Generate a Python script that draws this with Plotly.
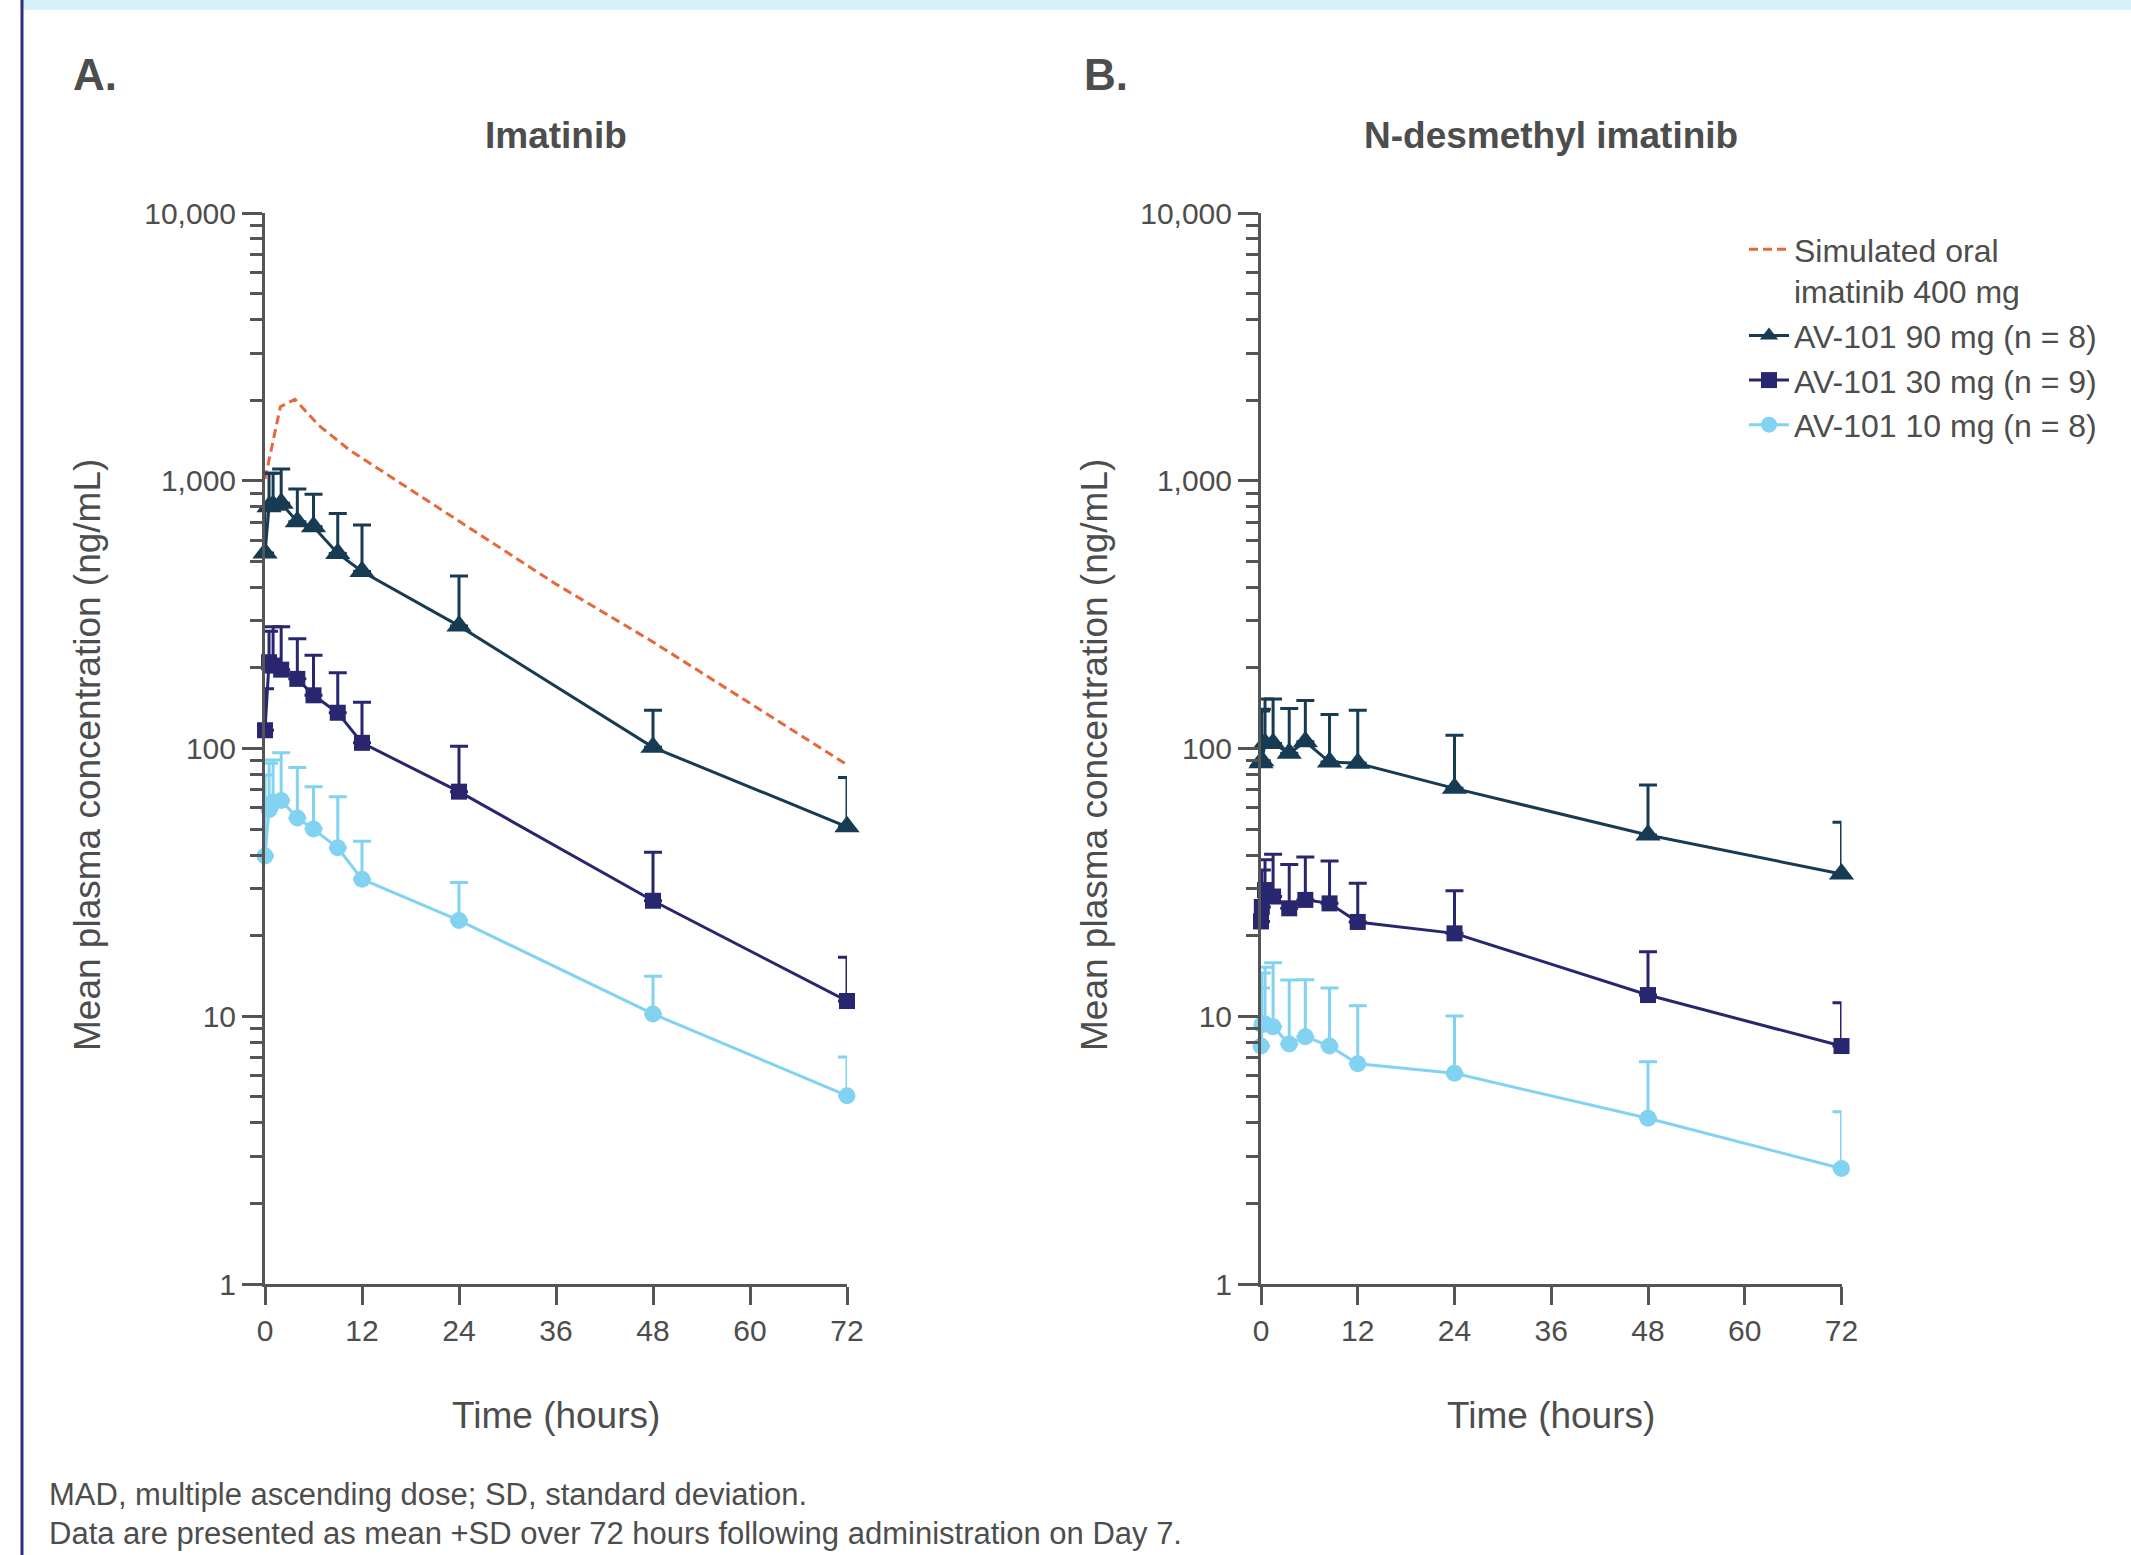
import plotly.graph_objects as go

W, H = 2131, 1555

# ---------------- data ----------------
# Panel A: Imatinib
times_A = [0, 0.5, 1, 2, 4, 6, 9, 12, 24, 48, 72]
a_90_mean = [537, 800, 810, 824, 703, 673, 535, 458, 287, 101, 51]
a_90_sd = [291, 267, 257, 283, 229, 217, 220, 226, 154, 38, 27]
a_30_mean = [117, 210, 204, 197, 182, 158, 136, 105, 69, 27, 11.4]
a_30_sd = [50, 64, 81, 88, 75, 65, 56, 44, 33, 14, 5.2]
a_10_mean = [39.7, 59, 63, 64, 55, 50, 42.6, 32.5, 22.8, 10.2, 5.05]
a_10_sd = [40, 29, 27.6, 32.4, 30, 22, 23.4, 12.5, 8.8, 3.9, 2.0]

# Simulated oral imatinib 400 mg (panel A only)
sim_times = [0, 1.9, 3.7, 6.6, 10.5, 14.6, 21.4, 36, 48, 60, 72]
sim_conc = [1015, 1890, 2015, 1615, 1300, 1080, 800, 411, 250, 147, 87]

# Panel B: N-desmethyl imatinib
times_B = [0, 0.1, 0.5, 1.5, 3.5, 5.5, 8.5, 12, 24, 48, 72]
b_90_mean = [88.5, 90, 104.5, 104.5, 96, 106, 89, 88, 71, 47.5, 34]
b_90_sd = [49.5, 50, 48.5, 48.5, 45, 45, 45, 51, 41, 25.5, 19]
b_30_mean = [22.6, 25.6, 29.6, 28.0, 25.3, 27.2, 26.4, 22.5, 20.4, 12.0, 7.74]
b_30_sd = [6.3, 9.6, 8.8, 12.3, 11.6, 12.1, 11.6, 8.9, 9.0, 5.4, 3.5]
b_10_mean = [7.74, 9.3, 9.35, 9.14, 7.87, 8.39, 7.74, 6.64, 6.12, 4.16, 2.70]
b_10_sd = [5.0, 5.2, 5.9, 6.7, 5.8, 5.3, 5.0, 4.3, 3.9, 2.6, 1.7]

series_names = ["AV-101 90 mg (n = 8)", "AV-101 30 mg (n = 9)", "AV-101 10 mg (n = 8)"]
sim_name = "Simulated oral<br>imatinib 400 mg"

x_ticks = [0, 12, 24, 36, 48, 60, 72]
y_ticks = [1, 10, 100, 1000, 10000]
y_ticktext = ["1", "10", "100", "1,000", "10,000"]

panel_titles = ["Imatinib", "N-desmethyl imatinib"]
panel_letters = ["A.", "B."]
x_title = "Time (hours)"
y_title = "Mean plasma concentration (ng/mL)"
footnotes = [
    "MAD, multiple ascending dose; SD, standard deviation.",
    "Data are presented as mean +SD over 72 hours following administration on Day 7.",
]

# ---------------- styles ----------------
FONT = "Liberation Sans, Arial, Helvetica, sans-serif"
TXT = "#4d4d4d"
AX = "#555555"
colors = ["#173B53", "#27266F", "#82D3F2"]
symbols = ["triangle-up", "square", "circle"]
msizes = [22, 16, 17]
SIM_COL = "#E4693B"


def px(x):
    return x / W


def py(y):
    return 1 - y / H


fig = go.Figure()

fig.add_trace(go.Scatter(
    x=sim_times, y=sim_conc, mode="lines", name=sim_name,
    line=dict(color=SIM_COL, width=3, dash="9px,5px"),
    xaxis="x", yaxis="y", cliponaxis=False, showlegend=True,
))

panels = [
    ("x", "y", times_A, [(a_90_mean, a_90_sd), (a_30_mean, a_30_sd), (a_10_mean, a_10_sd)], True),
    ("x2", "y2", times_B, [(b_90_mean, b_90_sd), (b_30_mean, b_30_sd), (b_10_mean, b_10_sd)], False),
]
for xa, ya, tt, sers, show in panels:
    for i, (m, sd) in enumerate(sers):
        fig.add_trace(go.Scatter(
            x=tt, y=m, mode="lines+markers", name=series_names[i],
            line=dict(color=colors[i], width=3),
            marker=dict(symbol=symbols[i], size=msizes[i], color=colors[i],
                        line=dict(width=0)),
            error_y=dict(type="data", symmetric=False, array=sd,
                         arrayminus=[0] * len(sd), color=colors[i],
                         thickness=3, width=9),
            xaxis=xa, yaxis=ya, cliponaxis=False, showlegend=show,
        ))

minor_vals = [m * 10 ** e for e in range(0, 4) for m in range(2, 10)]

common_x = dict(
    range=[0, 72], tickmode="array", tickvals=x_ticks,
    showline=True, linewidth=3, linecolor=AX,
    ticks="outside", ticklen=18, tickwidth=2.5, tickcolor=AX,
    tickfont=dict(size=30, color=TXT, family=FONT),
    showgrid=False, zeroline=False, fixedrange=True, automargin=False,
)
common_y = dict(
    type="log", range=[0, 4], domain=[py(1284), py(213)],
    tickmode="array", tickvals=y_ticks, ticktext=y_ticktext,
    showline=True, linewidth=3, linecolor=AX,
    ticks="outside", ticklen=20, tickwidth=3, tickcolor=AX,
    tickfont=dict(size=30, color=TXT, family=FONT),
    minor=dict(tickmode="array", tickvals=minor_vals, ticks="outside",
               ticklen=12, tickwidth=3, tickcolor=AX, showgrid=False),
    showgrid=False, zeroline=False, fixedrange=True, automargin=False,
)

annotations = []
# panel letters
for lx, lt in zip([71, 1082], panel_letters):
    annotations.append(dict(x=px(lx), y=py(74), xref="paper", yref="paper",
                            text="<b>" + lt + "</b>", showarrow=False,
                            xanchor="left", yanchor="middle",
                            font=dict(size=44, color=TXT, family=FONT)))
# panel titles, axis titles
for cx, ycx, t in zip([556, 1551], [87, 1094], panel_titles):
    annotations.append(dict(x=px(cx), y=py(136), xref="paper", yref="paper",
                            text="<b>" + t + "</b>", showarrow=False,
                            xanchor="center", yanchor="middle",
                            font=dict(size=37, color=TXT, family=FONT)))
    annotations.append(dict(x=px(cx), y=py(1415), xref="paper", yref="paper",
                            text=x_title, showarrow=False,
                            xanchor="center", yanchor="middle",
                            font=dict(size=37, color=TXT, family=FONT)))
    annotations.append(dict(x=px(ycx), y=py(755), xref="paper", yref="paper",
                            text=y_title, showarrow=False, textangle=-90,
                            xanchor="center", yanchor="middle",
                            font=dict(size=37, color=TXT, family=FONT)))
# footnotes
for fy, ft in zip([1494, 1533], footnotes):
    annotations.append(dict(x=px(47), y=py(fy), xref="paper", yref="paper",
                            text=ft, showarrow=False,
                            xanchor="left", yanchor="middle",
                            font=dict(size=31, color=TXT, family=FONT)))

shapes = [
    dict(type="rect", xref="paper", yref="paper", x0=px(22), x1=1,
         y0=py(10), y1=1, fillcolor="#D8F0FA", line=dict(width=0), layer="below"),
    dict(type="line", xref="paper", yref="paper", x0=px(22), x1=px(22),
         y0=0, y1=1, line=dict(color="#2B2F7C", width=3)),
]

fig.update_layout(
    width=W, height=H,
    margin=dict(l=0, r=0, t=0, b=0, pad=0, autoexpand=False),
    paper_bgcolor="white", plot_bgcolor="white",
    font=dict(family=FONT, color=TXT),
    xaxis=dict(domain=[px(265), px(847)], anchor="y", **common_x),
    yaxis=dict(anchor="x", **common_y),
    xaxis2=dict(domain=[px(1261), px(1841.5)], anchor="y2", **common_x),
    yaxis2=dict(anchor="x2", **common_y),
    legend=dict(x=px(1744), y=py(222), xanchor="left", yanchor="top",
                font=dict(size=32, color=TXT, family=FONT),
                bgcolor="rgba(0,0,0,0)", borderwidth=0,
                valign="top", traceorder="normal", itemwidth=40),
    annotations=annotations,
    shapes=shapes,
    showlegend=True,
)

fig.write_html("out.html")
